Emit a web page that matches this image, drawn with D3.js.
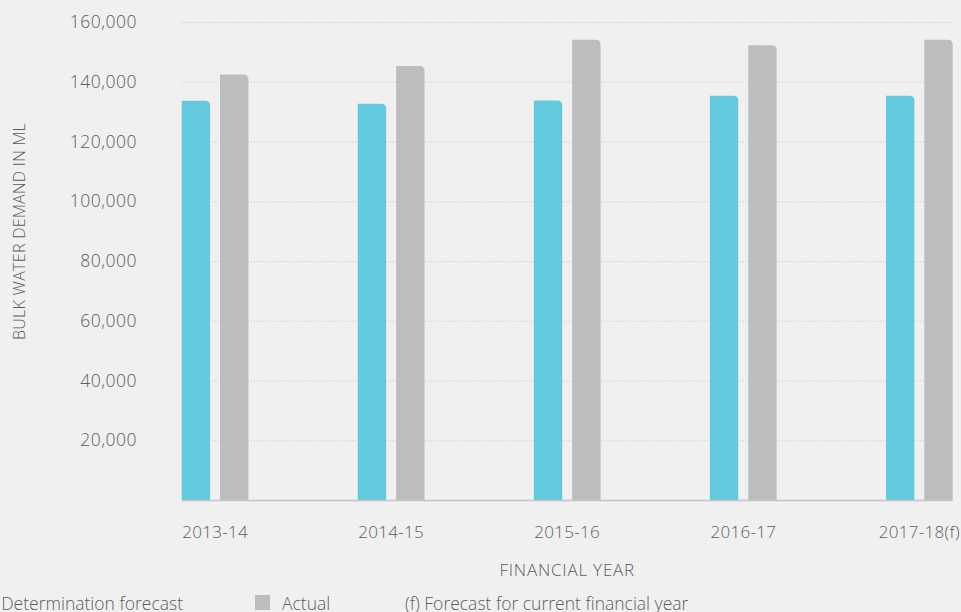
<!DOCTYPE html>
<html>
<head>
<meta charset="utf-8">
<script src="https://cdn.jsdelivr.net/npm/d3@7"></script>
<style>
  html, body { margin: 0; padding: 0; background: #f0f0f0; }
  svg { display: block; }
  text { font-family: "Open Sans", Lato, sans-serif; font-weight: 300; fill: #5c5c5c; }
</style>
</head>
<body>
<script>
// chart data
var years = ["2013-14", "2014-15", "2015-16", "2016-17", "2017-18(f)"];
var seriesNames = ["Determination forecast", "Actual"];
var forecast = [133600, 132600, 133700, 135300, 135300];
var actual = [142400, 145300, 154100, 152200, 154100];
var yTicks = [20000, 40000, 60000, 80000, 100000, 120000, 140000, 160000];
var colors = ["#62c9df", "#bcbdbf"];

var width = 961, height = 612;
var plot = {left: 181.7, right: 952.7, top: 22, bottom: 500};

var svg = d3.select("body").append("svg")
    .attr("width", width)
    .attr("height", height);

//Scales
var x0 = d3.scaleBand()
    .domain(years)
    .range([plot.left, plot.right])
    .paddingInner(0.621)
    .paddingOuter(0)
    .align(0);

var x1 = d3.scaleBand()
    .domain(seriesNames)
    .range([0, x0.bandwidth()])
    .paddingInner(0.26)
    .paddingOuter(0);

var y = d3.scaleLinear()
    .domain([0, 160000])
    .range([plot.bottom, plot.top]);

//Gridlines (dotted)
svg.append("g")
    .selectAll("line")
    .data(yTicks)
    .enter().append("line")
    .attr("x1", plot.left)
    .attr("x2", plot.right)
    .attr("y1", function(d) { return y(d) + 0.5; })
    .attr("y2", function(d) { return y(d) + 0.5; })
    .attr("stroke", "#c6c6c6")
    .attr("stroke-width", 1)
    .attr("stroke-dasharray", "1,2");

//Y axis labels
var yAxis = d3.axisLeft(y)
    .tickValues(yTicks)
    .tickSize(0)
    .tickPadding(0)
    .tickFormat(d3.format(","));

svg.append("g")
    .attr("class", "y axis")
    .attr("transform", "translate(137,0)")
    .call(yAxis)
    .call(function(g) { g.select(".domain").remove(); })
    .attr("font-family", null)
    .attr("font-size", null)
    .selectAll("text")
    .attr("font-size", "17.5px")
    .attr("letter-spacing", "0.5px");

//Bars with rounded top-right corner
function barPath(x, yTop, w, yBase, r) {
    var h = yBase - yTop;
    r = Math.min(r, h, w);
    return "M" + x + "," + yBase +
        "V" + yTop +
        "H" + (x + w - r) +
        "Q" + (x + w) + "," + yTop + " " + (x + w) + "," + (yTop + r) +
        "V" + yBase + "Z";
}

var rows = years.map(function(yr, i) {
    return {year: yr, values: [forecast[i], actual[i]]};
});

var groups = svg.append("g")
    .selectAll("g")
    .data(rows)
    .enter().append("g")
    .attr("transform", function(d) { return "translate(" + x0(d.year) + ",0)"; });

groups.selectAll("path")
    .data(function(d) {
        return d.values.map(function(v, j) { return {name: seriesNames[j], value: v, idx: j}; });
    })
    .enter().append("path")
    .attr("d", function(d) { return barPath(x1(d.name), y(d.value), x1.bandwidth(), y(0), 5); })
    .attr("fill", function(d) { return colors[d.idx]; });

//Baseline
svg.append("line")
    .attr("x1", plot.left)
    .attr("x2", plot.right)
    .attr("y1", y(0) + 0.5)
    .attr("y2", y(0) + 0.5)
    .attr("stroke", "#c4c4c4")
    .attr("stroke-width", 1.5);

//X axis labels
var xAxis = d3.axisBottom(x0).tickSize(0).tickPadding(0);
svg.append("g")
    .attr("class", "x axis")
    .attr("transform", "translate(0," + (y(0) + 26) + ")")
    .call(xAxis)
    .call(function(g) { g.select(".domain").remove(); })
    .attr("font-family", null)
    .attr("font-size", null)
    .selectAll("text")
    .attr("font-size", "17px")
    .attr("letter-spacing", "0.3px");

//Axis titles
svg.append("text")
    .attr("x", (plot.left + plot.right) / 2)
    .attr("y", 576)
    .attr("text-anchor", "middle")
    .attr("font-size", "17px")
    .attr("letter-spacing", "0.8px")
    .text("FINANCIAL YEAR");

svg.append("text")
    .attr("transform", "translate(25,231.5) rotate(-90)")
    .attr("text-anchor", "middle")
    .attr("font-size", "16px")
    .attr("letter-spacing", "0.3px")
    .text("BULK WATER DEMAND IN ML");

//Legend
var legend = svg.append("g");
legend.append("rect")
    .attr("x", -40).attr("y", 595).attr("width", 15).attr("height", 15)
    .attr("fill", colors[0]);
legend.append("text")
    .attr("x", 183).attr("y", 610)
    .attr("text-anchor", "end")
    .attr("font-size", "17.5px")
    .text(seriesNames[0]);
legend.append("rect")
    .attr("x", 255).attr("y", 595).attr("width", 15).attr("height", 15)
    .attr("fill", colors[1]);
legend.append("text")
    .attr("x", 282).attr("y", 610)
    .attr("font-size", "17.5px")
    .text(seriesNames[1]);
legend.append("text")
    .attr("x", 405).attr("y", 610)
    .attr("font-size", "17.5px")
    .text("(f) Forecast for current financial year");
</script>
</body>
</html>
